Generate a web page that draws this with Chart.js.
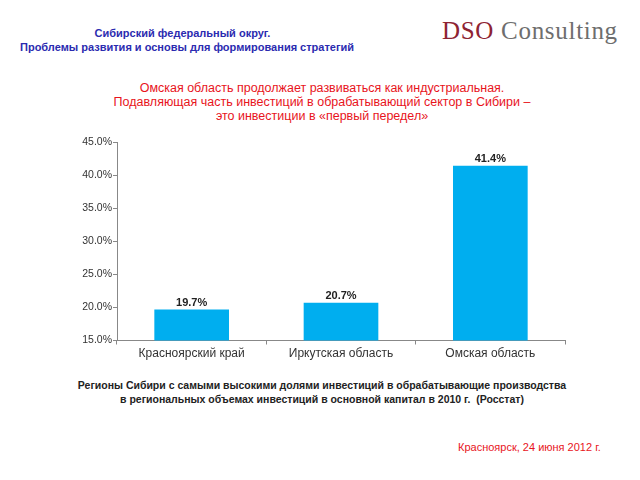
<!DOCTYPE html>
<html>
<head>
<meta charset="utf-8">
<script src="https://cdn.jsdelivr.net/npm/chart.js@4"></script>
<style>
  body { margin: 0; background: #fff; font-family: Arial, "Liberation Sans", sans-serif; }
  #page { position: relative; width: 640px; height: 480px; overflow: hidden; }
  .t { position: absolute; white-space: nowrap; }
  #hdr { left: 20px; width: 325px; top: 26px; text-align: center; color: #2b2bb0; font-size: 11px; line-height: 14px; font-weight: bold; }
  #logo { left: 442px; top: 18px; font-family: "Liberation Serif", "DejaVu Serif", serif; font-size: 25px; line-height: 25px; letter-spacing: 0.7px; }
  #logo .a { color: #8e2333; }
  #logo .b { color: #6e6e6e; }
  #ttl { left: 0; width: 644px; top: 81px; text-align: center; color: #e8141c; font-size: 12.5px; line-height: 14px; }
  #cap { left: 0; width: 644px; top: 378px; text-align: center; color: #222; font-size: 10.5px; line-height: 14px; font-weight: bold; }
  #date { left: 458px; top: 441px; color: #e8141c; font-size: 11px; }
  #wrap { position: absolute; left: 0; top: 130px; width: 640px; height: 240px; }
</style>
</head>
<body>
<div id="page">
  <div class="t" id="hdr">Сибирский федеральный округ.<br>Проблемы развития и основы для формирования стратегий</div>
  <div class="t" id="logo"><span class="a">DSO</span> <span class="b">Consulting</span></div>
  <div class="t" id="ttl">Омская область продолжает развиваться как индустриальная.<br>Подавляющая часть инвестиций в обрабатывающий сектор в Сибири –<br>это инвестиции в «первый передел»</div>
  <div id="wrap"><canvas id="chart" width="640" height="240"></canvas></div>
  <div class="t" id="cap">Регионы Сибири с самыми высокими долями инвестиций в обрабатывающие производства<br>в региональных объемах инвестиций в основной капитал в 2010 г.&nbsp; (Росстат)</div>
  <div class="t" id="date">Красноярск, 24 июня 2012 г.</div>
</div>
<script>
const regions = ['Красноярский край', 'Иркутская область', 'Омская область'];
const shares = [19.7, 20.7, 41.4];
const yTicks = [15, 20, 25, 30, 35, 40, 45];

const valueLabels = {
  id: 'valueLabels',
  afterDatasetsDraw(chart) {
    const ctx = chart.ctx;
    const meta = chart.getDatasetMeta(0);
    ctx.save();
    ctx.fillStyle = '#222';
    ctx.font = 'bold 11px Arial';
    ctx.textAlign = 'center';
    ctx.textBaseline = 'bottom';
    meta.data.forEach((bar, i) => {
      ctx.fillText(shares[i].toFixed(1) + '%', bar.x, bar.y - 1);
    });
    ctx.restore();
  }
};

new Chart(document.getElementById('chart'), {
  type: 'bar',
  data: {
    labels: regions,
    datasets: [{
      data: shares,
      backgroundColor: 'rgb(0, 174, 239)',
      barPercentage: 0.5,
      categoryPercentage: 1.0
    }]
  },
  options: {
    responsive: false,
    animation: false,
    layout: { padding: { top: 12, right: 75, left: 0, bottom: 0 } },
    plugins: { legend: { display: false }, tooltip: { enabled: false } },
    scales: {
      x: {
        grid: { drawOnChartArea: false, tickLength: 4, color: '#888' },
        border: { color: '#888' },
        ticks: { color: '#333', font: { family: 'Arial', size: 12 }, padding: 2 },
        afterFit(s) { s.height = 29.5; }
      },
      y: {
        min: 15,
        max: 45,
        afterBuildTicks(s) { s.ticks = yTicks.map(v => ({ value: v })); },
        grid: { drawOnChartArea: false, tickLength: 4, color: '#888' },
        border: { color: '#888' },
        ticks: {
          color: '#333',
          font: { family: 'Arial', size: 10.5 },
          padding: 1,
          callback: v => v.toFixed(1) + '%'
        },
        afterFit(s) { s.width = 117; }
      }
    }
  },
  plugins: [valueLabels]
});
</script>
</body>
</html>
